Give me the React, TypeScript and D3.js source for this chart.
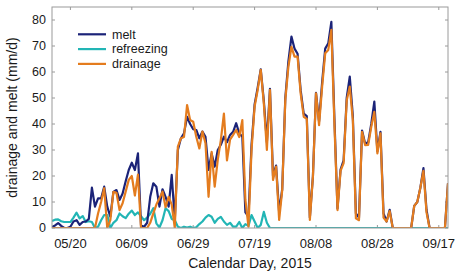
import React from "react";
import * as d3 from "d3";

const startDate = new Date(2015, 4, 14);
const endDate = new Date(2015, 8, 20);

const melt = [
  0.4, 1, 1.9, 0.8, 0, 0, 0.5, 2.5, 3, 1.2,
  2.3, 2.5, 3.5, 15.5, 8.2, 11.4, 11.4, 15.9, 8.2, 4.4,
  13.9, 14.6, 10.8, 13.3, 18, 22.3, 25.1, 22.3, 28.7, 1,
  0.5, 2, 12, 17.2, 15.9, 8.2, 14.9, 12, 8.2, 20.4,
  3, 30, 34.5, 36.4, 42.8, 40, 38, 37.7, 34.5, 37.1,
  35.1, 22.3, 28.7, 23.6, 30, 32, 35.1, 33, 35.8, 37,
  40.3, 36.4, 35.1, 6, 4.4, 32, 47.5, 54, 61, 49,
  33, 53.5, 20, 24, 6, 15, 50, 64, 73.6, 69,
  67, 53, 44, 43, 4, 20, 52, 41, 56, 69,
  71, 79.3, 42, 7.5, 22.5, 26, 50, 58.2, 43, 5.6,
  4, 37.5, 32.5, 33, 40, 48.6, 29.5, 37, 5.6, 2.5,
  7, 0, 0, 0, 0, 0, 0, 0, 8.5, 10,
  15.5, 23, 7, 0, 0, 0, 0, 0, 0, 17.2,
];

const refreezing = [
  2.7, 3.2, 3.3, 2.6, 2.3, 2.3, 2.3, 4, 5.9, 3.7,
  4.6, 2.3, 2.6, 2.3, 0, 0.5, 3, 5, 5, 0,
  2, 3, 5.6, 4.5, 3.8, 5.5, 6.7, 5, 6, 4.5,
  3, 4, 5.5, 7.6, 1.8, 0.2, 3, 7.6, 6.5, 3.5,
  3, 0.5, 0, 0.5, 0.2, 0.5, 0, 0.3, 1.5, 2.5,
  4, 5, 4.3, 2, 3.5, 4.3, 2.5, 1.2, 2, 0.5,
  0.5, 2.3, 0, 1.5, 0.8, 5, 2.5, 0, 1.2, 6.2,
  2, 0, 0, 0, 0, 0, 0, 0, 0, 0,
  0, 0, 0, 0, 0, 0, 0, 0, 0, 0,
  0, 0, 0, 0, 0, 0, 0, 0, 0, 0,
  0, 0, 0, 0, 0, 0, 0, 0, 0, 0,
  0, 0, 0, 0, 0, 0, 0, 0, 0, 0,
  0, 0, 0, 0, 0, 0, 0, 0, 0, 0,
];

const drainage = [
  0, 0, 0, 0, 0, 0, 0, 0, 0, 0,
  0, 0, 0, 0, 0, 5.6, 10, 15.3, 0, 3,
  13.9, 13.5, 6.9, 9.5, 14, 18.5, 20, 12.5, 20.5, 0,
  0, 0, 2, 5.6, 9, 11.4, 14, 8, 12, 9,
  0, 31.3, 34.5, 35, 47.3, 41.5, 40.9, 35.1, 30.6, 37.1,
  32.6, 12, 29.3, 15.9, 26.2, 33.8, 44, 26, 34, 35.8,
  37.7, 35, 41.5, 10.8, 0.5, 30, 46.7, 53.1, 60.8, 48,
  30, 53.1, 18.5, 23.6, 3.1, 14.6, 49.2, 62, 69.7, 65.9,
  65.9, 51.8, 42.8, 42, 3.1, 19.7, 51.8, 39.6, 54.4, 67.2,
  68.5, 76.2, 40, 6.9, 22, 25, 49, 54.4, 41.5, 3.7,
  3, 37, 31.9, 32, 38.9, 44.7, 28.7, 36.4, 4, 2.5,
  6.5, 0, 0, 0, 0, 0, 0, 0, 8.5, 10,
  15.5, 22, 6, 0, 0, 0, 0, 0, 0, 17.2,
];

const yTicks = [0, 10, 20, 30, 40, 50, 60, 70, 80];
const xTickDates = [
  new Date(2015, 4, 20),
  new Date(2015, 5, 9),
  new Date(2015, 5, 29),
  new Date(2015, 6, 19),
  new Date(2015, 7, 8),
  new Date(2015, 7, 28),
  new Date(2015, 8, 17),
];

const seriesNames = ["melt", "refreezing", "drainage"];
const seriesColors = ["#1b2378", "#22b5b5", "#e47c1e"];

const W = 459;
const H = 276;
const M = { left: 52, right: 11, top: 7, bottom: 48 };
const FONT = "'Liberation Sans', Arial, Helvetica, sans-serif";

export default function App() {
  const x = d3
    .scaleTime()
    .domain([startDate, endDate])
    .range([M.left, W - M.right]);
  const y = d3.scaleLinear().domain([0, 85]).range([H - M.bottom, M.top]);

  const dates = melt.map((_, i) => d3.timeDay.offset(startDate, i));
  const line = d3
    .line<number>()
    .x((_, i) => x(dates[i]))
    .y((v) => y(v));

  const fmt = d3.timeFormat("%m/%d");
  const axisColor = "#9a9a9a";
  const textColor = "#1a1a1a";
  const x0 = M.left;
  const x1 = W - M.right;
  const y0 = H - M.bottom;
  const y1 = M.top;
  const tl = 3;

  const series = [melt, refreezing, drainage];
  const drawOrder = [1, 0, 2];

  return (
    <svg
      width={W}
      height={H}
      style={{ position: "absolute", left: 0, top: 0, background: "#fff" }}
      fontFamily={FONT}
    >
      <defs>
        <clipPath id="plotclip">
          <rect x={x0} y={y1} width={x1 - x0} height={y0 - y1} />
        </clipPath>
      </defs>
      <rect x={0} y={0} width={W} height={H} fill="#fff" />
      {/* ticks */}
      {yTicks.map((t) => (
        <g key={"y" + t}>
          <line x1={x0} x2={x0 + tl} y1={y(t)} y2={y(t)} stroke={axisColor} strokeWidth={1} />
          <line x1={x1} x2={x1 - tl} y1={y(t)} y2={y(t)} stroke={axisColor} strokeWidth={1} />
          <text
            x={x0 - 6}
            y={y(t)}
            dy="0.35em"
            textAnchor="end"
            fontSize={12.5}
            fill={textColor}
          >
            {t}
          </text>
        </g>
      ))}
      {xTickDates.map((d) => (
        <g key={"x" + d.getTime()}>
          <line x1={x(d)} x2={x(d)} y1={y0} y2={y0 - tl} stroke={axisColor} strokeWidth={1} />
          <line x1={x(d)} x2={x(d)} y1={y1} y2={y1 + tl} stroke={axisColor} strokeWidth={1} />
          <text x={x(d)} y={y0 + 20} textAnchor="middle" fontSize={13} fill={textColor}>
            {fmt(d)}
          </text>
        </g>
      ))}
      <g clipPath="url(#plotclip)">
        {drawOrder.map((k) => (
          <path
            key={seriesNames[k]}
            d={line(series[k]) || ""}
            fill="none"
            stroke={seriesColors[k]}
            strokeWidth={2.2}
            strokeLinejoin="round"
          />
        ))}
      </g>
      <rect
        x={x0}
        y={y1}
        width={x1 - x0}
        height={y0 - y1}
        fill="none"
        stroke={axisColor}
        strokeWidth={1}
      />
      {/* legend */}
      {seriesNames.map((n, k) => (
        <g key={"lg" + n}>
          <line
            x1={78}
            x2={106}
            y1={34.3 + k * 14.8}
            y2={34.3 + k * 14.8}
            stroke={seriesColors[k]}
            strokeWidth={2.2}
          />
          <text x={112} y={34.3 + k * 14.8} dy="0.35em" fontSize={12.5} fill={textColor}>
            {n}
          </text>
        </g>
      ))}
      <text
        x={(x0 + x1) / 2}
        y={268}
        textAnchor="middle"
        fontSize={14}
        fill={textColor}
      >
        Calendar Day, 2015
      </text>
      <text
        transform={`translate(17, ${(y0 + y1) / 2}) rotate(-90)`}
        textAnchor="middle"
        fontSize={14}
        fill={textColor}
      >
        drainage and melt (mm/d)
      </text>
    </svg>
  );
}
